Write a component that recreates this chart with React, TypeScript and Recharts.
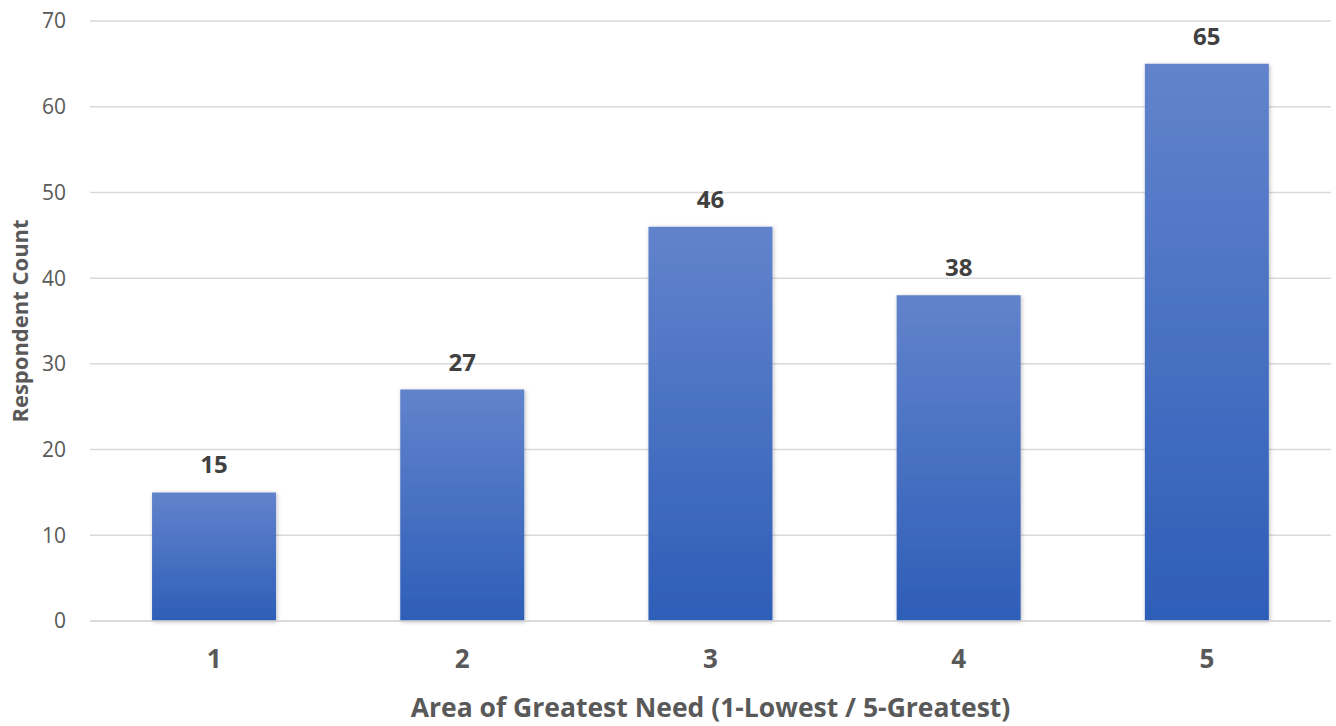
import React from "react";
import { BarChart, Bar, XAxis, YAxis, CartesianGrid, LabelList, Label } from "recharts";

const categories = ["1", "2", "3", "4", "5"];
const counts = [15, 27, 46, 38, 65];
const yTicks = [0, 10, 20, 30, 40, 50, 60, 70];

const data = categories.map((c, i) => ({ name: c, value: counts[i] }));

const FONT = "'Open Sans', 'Noto Sans', sans-serif";

export default function App() {
  return (
    <div style={{ position: "absolute", left: 0, top: 0, width: 1336, height: 726, background: "#fff" }}>
      <BarChart
        width={1336}
        height={726}
        data={data}
        margin={{ top: 21, right: 5, bottom: 0, left: 0 }}
        barCategoryGap="25%"
      >
        <defs>
          <linearGradient id="barGrad" x1="0" y1="0" x2="0" y2="1">
            <stop offset="0%" stopColor="#6283cc" />
            <stop offset="100%" stopColor="#2e5eb8" />
          </linearGradient>
          <filter id="shadow" x="-10%" y="-10%" width="120%" height="120%">
            <feDropShadow dx="1" dy="1" stdDeviation="2" floodColor="#000" floodOpacity="0.25" />
          </filter>
        </defs>
        <CartesianGrid vertical={false} stroke="#d9d9d9" strokeWidth={1.5} />
        <XAxis
          dataKey="name"
          height={105}
          axisLine={{ stroke: "#d9d9d9", strokeWidth: 1.5 }}
          tickLine={false}
          tick={{ fontFamily: FONT, fontSize: 26, fontWeight: 700, fill: "#595959" }}
          tickMargin={23}
        >
          <Label
            value="Area of Greatest Need (1-Lowest / 5-Greatest)"
            position="insideBottom"
            offset={9}
            style={{ fontFamily: FONT, fontSize: 26.5, fontWeight: 700, fill: "#595959" }}
          />
        </XAxis>
        <YAxis
          width={90}
          domain={[0, 70]}
          ticks={yTicks}
          axisLine={false}
          tickLine={false}
          tickMargin={18}
          tick={{ fontFamily: FONT, fontSize: 21, fill: "#595959" }}
        >
          <Label
            value="Respondent Count"
            angle={-90}
            position="insideLeft"
            offset={20}
            style={{ textAnchor: "middle", fontFamily: FONT, fontSize: 22, fontWeight: 700, fill: "#595959" }}
          />
        </YAxis>
        <Bar dataKey="value" fill="url(#barGrad)" isAnimationActive={false} filter="url(#shadow)">
          <LabelList
            dataKey="value"
            position="top"
            offset={19}
            style={{ fontFamily: FONT, fontSize: 24, fontWeight: 700, fill: "#404040" }}
          />
        </Bar>
      </BarChart>
    </div>
  );
}
